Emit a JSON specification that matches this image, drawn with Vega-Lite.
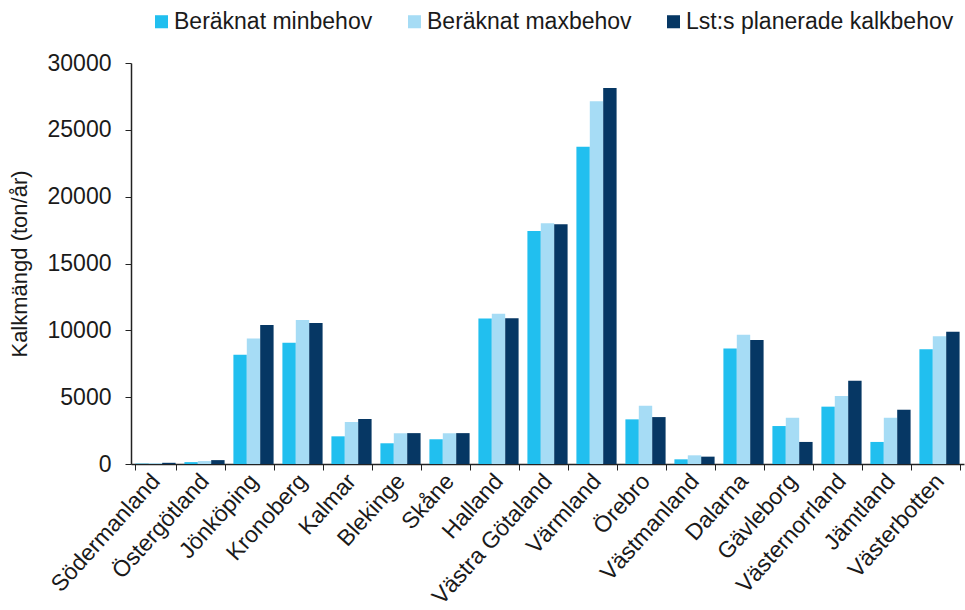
{
  "$schema": "https://vega.github.io/schema/vega-lite/v6.json",
  "width": 833,
  "height": 401,
  "autosize": {"type": "none"},
  "padding": {"left": 131, "top": 63, "right": 1, "bottom": 146},
  "background": "white",
  "config": {
    "view": {"stroke": null},
    "font": "Liberation Sans",
    "axis": {"labelFont": "Liberation Sans", "titleFont": "Liberation Sans", "labelColor": "#1a1a1a", "titleColor": "#1a1a1a", "domainColor": "#222222", "tickColor": "#222222", "grid": false}
  },
  "data": {
    "values": [
      {"lan": "Södermanland", "serie": "Beräknat minbehov", "varde": 30},
      {"lan": "Södermanland", "serie": "Beräknat maxbehov", "varde": 60},
      {"lan": "Södermanland", "serie": "Lst:s planerade kalkbehov", "varde": 90},
      {"lan": "Östergötland", "serie": "Beräknat minbehov", "varde": 140},
      {"lan": "Östergötland", "serie": "Beräknat maxbehov", "varde": 220},
      {"lan": "Östergötland", "serie": "Lst:s planerade kalkbehov", "varde": 290},
      {"lan": "Jönköping", "serie": "Beräknat minbehov", "varde": 8170},
      {"lan": "Jönköping", "serie": "Beräknat maxbehov", "varde": 9380},
      {"lan": "Jönköping", "serie": "Lst:s planerade kalkbehov", "varde": 10400},
      {"lan": "Kronoberg", "serie": "Beräknat minbehov", "varde": 9080},
      {"lan": "Kronoberg", "serie": "Beräknat maxbehov", "varde": 10770},
      {"lan": "Kronoberg", "serie": "Lst:s planerade kalkbehov", "varde": 10550},
      {"lan": "Kalmar", "serie": "Beräknat minbehov", "varde": 2070},
      {"lan": "Kalmar", "serie": "Beräknat maxbehov", "varde": 3140},
      {"lan": "Kalmar", "serie": "Lst:s planerade kalkbehov", "varde": 3370},
      {"lan": "Blekinge", "serie": "Beräknat minbehov", "varde": 1550},
      {"lan": "Blekinge", "serie": "Beräknat maxbehov", "varde": 2300},
      {"lan": "Blekinge", "serie": "Lst:s planerade kalkbehov", "varde": 2310},
      {"lan": "Skåne", "serie": "Beräknat minbehov", "varde": 1850},
      {"lan": "Skåne", "serie": "Beräknat maxbehov", "varde": 2300},
      {"lan": "Skåne", "serie": "Lst:s planerade kalkbehov", "varde": 2310},
      {"lan": "Halland", "serie": "Beräknat minbehov", "varde": 10880},
      {"lan": "Halland", "serie": "Beräknat maxbehov", "varde": 11240},
      {"lan": "Halland", "serie": "Lst:s planerade kalkbehov", "varde": 10900},
      {"lan": "Västra Götaland", "serie": "Beräknat minbehov", "varde": 17430},
      {"lan": "Västra Götaland", "serie": "Beräknat maxbehov", "varde": 18010},
      {"lan": "Västra Götaland", "serie": "Lst:s planerade kalkbehov", "varde": 17930},
      {"lan": "Värmland", "serie": "Beräknat minbehov", "varde": 23740},
      {"lan": "Värmland", "serie": "Beräknat maxbehov", "varde": 27130},
      {"lan": "Värmland", "serie": "Lst:s planerade kalkbehov", "varde": 28130},
      {"lan": "Örebro", "serie": "Beräknat minbehov", "varde": 3340},
      {"lan": "Örebro", "serie": "Beräknat maxbehov", "varde": 4360},
      {"lan": "Örebro", "serie": "Lst:s planerade kalkbehov", "varde": 3510},
      {"lan": "Västmanland", "serie": "Beräknat minbehov", "varde": 350},
      {"lan": "Västmanland", "serie": "Beräknat maxbehov", "varde": 650},
      {"lan": "Västmanland", "serie": "Lst:s planerade kalkbehov", "varde": 550},
      {"lan": "Dalarna", "serie": "Beräknat minbehov", "varde": 8650},
      {"lan": "Dalarna", "serie": "Beräknat maxbehov", "varde": 9670},
      {"lan": "Dalarna", "serie": "Lst:s planerade kalkbehov", "varde": 9280},
      {"lan": "Gävleborg", "serie": "Beräknat minbehov", "varde": 2840},
      {"lan": "Gävleborg", "serie": "Beräknat maxbehov", "varde": 3460},
      {"lan": "Gävleborg", "serie": "Lst:s planerade kalkbehov", "varde": 1650},
      {"lan": "Västernorrland", "serie": "Beräknat minbehov", "varde": 4290},
      {"lan": "Västernorrland", "serie": "Beräknat maxbehov", "varde": 5090},
      {"lan": "Västernorrland", "serie": "Lst:s planerade kalkbehov", "varde": 6230},
      {"lan": "Jämtland", "serie": "Beräknat minbehov", "varde": 1650},
      {"lan": "Jämtland", "serie": "Beräknat maxbehov", "varde": 3460},
      {"lan": "Jämtland", "serie": "Lst:s planerade kalkbehov", "varde": 4060},
      {"lan": "Västerbotten", "serie": "Beräknat minbehov", "varde": 8580},
      {"lan": "Västerbotten", "serie": "Beräknat maxbehov", "varde": 9550},
      {"lan": "Västerbotten", "serie": "Lst:s planerade kalkbehov", "varde": 9900}
    ]
  },
  "mark": {"type": "bar"},
  "encoding": {
    "x": {
      "field": "lan",
      "type": "nominal",
      "sort": null,
      "title": null,
      "scale": {"paddingInner": 0.18, "paddingOuter": 0.09},
      "axis": {"labelAngle": -48, "labelAlign": "right", "labelBaseline": "middle", "labelFontSize": 23, "labelPadding": 7, "tickBand": "extent", "tickSize": 6, "domainWidth": 1.5, "labelColor": "#1a1a1a"}
    },
    "xOffset": {"field": "serie", "type": "nominal", "sort": ["Beräknat minbehov", "Beräknat maxbehov", "Lst:s planerade kalkbehov"], "scale": {"paddingInner": 0}},
    "y": {
      "field": "varde",
      "type": "quantitative",
      "title": "Kalkmängd (ton/år)",
      "scale": {"domain": [0, 30000], "nice": false},
      "axis": {"values": [0, 5000, 10000, 15000, 20000, 25000, 30000], "format": "d", "labelFontSize": 23, "titleFontSize": 22, "titleFontWeight": "normal", "labelPadding": 14, "tickSize": 6, "titlePadding": 16, "domainWidth": 1.5}
    },
    "color": {
      "field": "serie",
      "type": "nominal",
      "sort": ["Beräknat minbehov", "Beräknat maxbehov", "Lst:s planerade kalkbehov"],
      "scale": {"domain": ["Beräknat minbehov", "Beräknat maxbehov", "Lst:s planerade kalkbehov"], "range": ["#21BFEF", "#A6DCF5", "#063764"]},
      "legend": {"title": null, "orient": "none", "direction": "horizontal", "legendX": 19, "legendY": -53, "symbolType": "square", "symbolSize": 170, "symbolStrokeWidth": 0, "labelFontSize": 23, "labelColor": "#1a1a1a", "labelOffset": 1, "columnPadding": 30, "labelLimit": 400}
    }
  }
}
